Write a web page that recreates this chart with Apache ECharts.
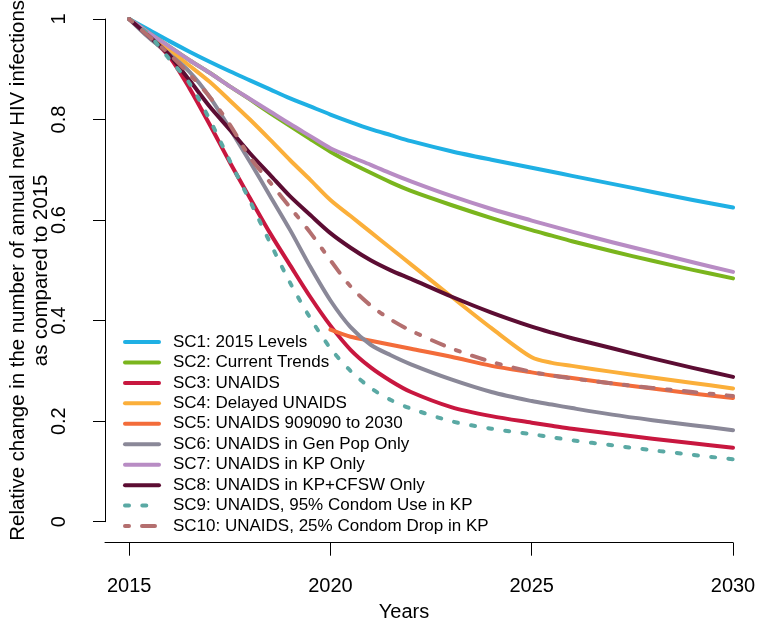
<!DOCTYPE html>
<html>
<head>
<meta charset="utf-8">
<script src="https://cdn.jsdelivr.net/npm/echarts@6/dist/echarts.min.js"></script>
<style>html,body{margin:0;padding:0;background:#fff}#c{width:760px;height:625px}</style>
</head>
<body>
<div id="c"></div>
<script>
const years = [2015, 2015.5, 2016, 2016.5, 2017, 2017.5, 2018, 2018.5, 2019, 2019.5, 2020, 2020.5, 2021, 2021.5, 2022, 2023, 2024, 2025, 2025.5, 2026, 2027, 2028, 2029, 2030];
const xTicks = [2015, 2020, 2025, 2030];
const names = ['SC1: 2015 Levels','SC2: Current Trends','SC3: UNAIDS','SC4: Delayed UNAIDS','SC5: UNAIDS 909090 to 2030','SC6: UNAIDS in Gen Pop Only','SC7: UNAIDS in KP Only','SC8: UNAIDS in KP+CFSW Only','SC9: UNAIDS, 95% Condom Use in KP','SC10: UNAIDS, 25% Condom Drop in KP'];
const sc1 = [1, 0.978, 0.956, 0.935, 0.915, 0.896, 0.878, 0.86, 0.842, 0.826, 0.81, 0.795, 0.781, 0.769, 0.757, 0.737, 0.72, 0.704, 0.696, 0.688, 0.672, 0.656, 0.64, 0.625];
const sc2 = [1, 0.972, 0.945, 0.918, 0.893, 0.866, 0.84, 0.813, 0.787, 0.761, 0.736, 0.714, 0.694, 0.675, 0.658, 0.63, 0.604, 0.58, 0.569, 0.558, 0.538, 0.519, 0.501, 0.484];
const sc3 = [1, 0.965, 0.925, 0.862, 0.79, 0.715, 0.644, 0.574, 0.51, 0.447, 0.39, 0.342, 0.307, 0.28, 0.258, 0.228, 0.21, 0.197, 0.191, 0.185, 0.175, 0.165, 0.156, 0.147];
const sc4 = [1, 0.968, 0.938, 0.907, 0.875, 0.838, 0.80, 0.76, 0.719, 0.68, 0.64, 0.608, 0.576, 0.544, 0.512, 0.448, 0.385, 0.327, 0.316, 0.31, 0.298, 0.287, 0.276, 0.265];
const sc5 = [null, null, null, null, null, null, null, null, null, null, 0.382, 0.368, 0.36, 0.352, 0.344, 0.328, 0.31, 0.297, 0.291, 0.286, 0.275, 0.265, 0.255, 0.246];
const sc6 = [1, 0.962, 0.93, 0.895, 0.845, 0.782, 0.716, 0.648, 0.58, 0.507, 0.44, 0.387, 0.352, 0.331, 0.313, 0.283, 0.258, 0.24, 0.233, 0.226, 0.213, 0.202, 0.192, 0.182];
const sc7 = [1, 0.972, 0.945, 0.918, 0.893, 0.866, 0.841, 0.816, 0.791, 0.767, 0.743, 0.726, 0.71, 0.693, 0.677, 0.648, 0.622, 0.599, 0.588, 0.577, 0.556, 0.536, 0.516, 0.497];
const sc8 = [1, 0.965, 0.928, 0.878, 0.826, 0.78, 0.733, 0.69, 0.647, 0.61, 0.574, 0.545, 0.52, 0.5, 0.483, 0.448, 0.416, 0.388, 0.376, 0.365, 0.345, 0.325, 0.306, 0.288];
const sc9 = [1, 0.968, 0.92, 0.872, 0.8, 0.718, 0.638, 0.555, 0.475, 0.405, 0.345, 0.3, 0.266, 0.242, 0.225, 0.2, 0.185, 0.174, 0.168, 0.162, 0.152, 0.142, 0.133, 0.124];
const sc10 = [1, 0.965, 0.93, 0.89, 0.845, 0.79, 0.725, 0.675, 0.625, 0.575, 0.52, 0.468, 0.43, 0.402, 0.38, 0.345, 0.318, 0.298, 0.291, 0.285, 0.275, 0.266, 0.258, 0.25];

const values = [sc1, sc2, sc3, sc4, sc5, sc6, sc7, sc8, sc9, sc10];
const colors = ['#1FB0E4', '#7AB51D', '#C8173F', '#FBAF3A', '#F36C3A', '#8A8898', '#B88CC4', '#5C0D33', '#5AA9A4', '#B46F6F'];
const dashes = ['solid','solid','solid','solid','solid','solid','solid','solid',[4, 13.3],[4, 13, 13, 13]];
const FONT = "'Liberation Sans', Arial, Helvetica, sans-serif";

const series = values.map((v, i) => ({
  name: names[i],
  type: 'line',
  data: years.map((y, k) => [y, v[k]]),
  showSymbol: false,
  symbol: 'circle',
  smooth: 0.3,
  clip: false,
  connectNulls: false,
  lineStyle: { color: colors[i], width: 4, type: dashes[i], cap: 'round', join: 'round' },
  itemStyle: { color: colors[i] },
  emphasis: { disabled: true }
}));

const chart = echarts.init(document.getElementById('c'), null, { renderer: 'canvas' });
chart.setOption({
  animation: false,
  backgroundColor: '#fff',
  title: {
    text: 'Years', left: 404, top: 602, textAlign: 'center', padding: 0,
    textStyle: { fontSize: 20, fontWeight: 'normal', color: '#000', fontFamily: FONT }
  },
  grid: { left: 105, right: 27, top: 19, bottom: 103.3, containLabel: false, outerBoundsMode: 'none' },
  legend: {
    orient: 'vertical', left: 123, top: 332, padding: 0,
    itemWidth: 34, itemHeight: 12, itemGap: 0.45,
    itemStyle: { color: 'rgba(0,0,0,0)', borderColor: 'rgba(0,0,0,0)', borderWidth: 0, opacity: 0 },
    lineStyle: { width: 4, cap: 'round' },
    textStyle: { fontSize: 17, lineHeight: 20, color: '#000', fontFamily: FONT, padding: [0, 0, 0, 9] },
    data: names
  },
  xAxis: {
    type: 'value', min: 2014.4, max: 2030, offset: 21,
    axisLine: { show: true, onZero: false, lineStyle: { color: '#000', width: 1 } },
    axisTick: { show: true, length: 13, customValues: xTicks, lineStyle: { color: '#000', width: 1 } },
    axisLabel: { customValues: xTicks, margin: 34, fontSize: 20, color: '#000', fontFamily: FONT, formatter: v => String(v) },
    splitLine: { show: false }
  },
  yAxis: {
    type: 'value', min: 0, max: 1, interval: 0.2,
    name: 'Relative change in the number of annual new HIV infections\nas compared to 2015',
    nameLocation: 'middle', nameRotate: 90, nameGap: 51.5, nameMoveOverlap: false,
    nameTextStyle: { fontSize: 20.4, lineHeight: 23.5, color: '#000', fontFamily: FONT },
    axisLine: { show: true, onZero: false, lineStyle: { color: '#000', width: 1 } },
    axisTick: { show: true, length: 12, lineStyle: { color: '#000', width: 1 } },
    axisLabel: { rotate: 90, margin: 36, fontSize: 20, color: '#000', fontFamily: FONT, formatter: v => String(+v.toFixed(1)) },
    splitLine: { show: false }
  },
  series: series
});
</script>
</body>
</html>
